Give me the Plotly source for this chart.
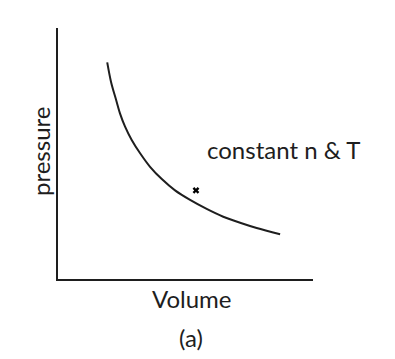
import plotly.graph_objects as go

# Curve (Volume, pressure) in arbitrary units
volume = [1.93, 2.08, 2.28, 2.43, 2.63, 2.89, 3.22, 3.61, 4.07, 4.59, 5.18, 5.83, 6.48, 7.14, 7.79, 8.71]
pressure = [8.63, 7.85, 7.13, 6.60, 6.07, 5.54, 5.01, 4.47, 3.98, 3.53, 3.15, 2.79, 2.48, 2.24, 2.03, 1.78]

marker_v = [5.41]
marker_p = [3.53]

label_text = "constant n & T"
x_title = "Volume"
y_title = "pressure"
caption = "(a)"

W, H = 395, 359
L, R, T, B = 58, 82, 28, 80
pw, ph = W - L - R, H - T - B

def px(x):
    return (x - L) / pw

def py(y):
    return (H - B - y) / ph

FONT = "Lato"
FS = 24
INK = "#1e1e1e"

fig = go.Figure()
fig.add_trace(go.Scatter(x=volume, y=pressure, mode="lines",
                         line=dict(color=INK, width=2, shape="spline", smoothing=0.9),
                         hoverinfo="skip", showlegend=False))
fig.add_trace(go.Scatter(x=marker_v, y=marker_p, mode="markers",
                         marker=dict(symbol="x", size=6, color="black"),
                         hoverinfo="skip", showlegend=False))

ann = dict(showarrow=False, xref="paper", yref="paper",
           font=dict(family=FONT, size=FS, color=INK))
fig.add_annotation(text=label_text, x=px(283), y=py(149), xanchor="center", yanchor="middle", **ann)
fig.add_annotation(text=x_title, x=px(192), y=py(298), xanchor="center", yanchor="middle", **ann)
fig.add_annotation(text=caption, x=px(191), y=py(337), xanchor="center", yanchor="middle", **ann)
fig.add_annotation(text=y_title, x=px(40), y=py(152), xanchor="center", yanchor="middle",
                   textangle=-90, **ann)

axis_common = dict(showline=True, linecolor=INK, linewidth=2, showgrid=False,
                   zeroline=False, showticklabels=False, ticks="", mirror=False)
fig.update_xaxes(range=[0, 10], **axis_common)
fig.update_yaxes(range=[0, 10], **axis_common)

fig.update_layout(width=W, height=H, margin=dict(l=L, r=R, t=T, b=B, pad=0),
                  paper_bgcolor="white", plot_bgcolor="white",
                  font=dict(family=FONT, size=FS, color=INK))

fig.write_html("out.html", config={"displayModeBar": False})
